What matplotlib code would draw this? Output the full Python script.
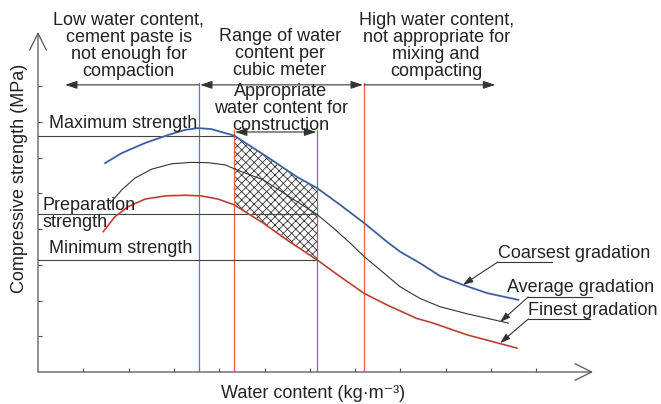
import matplotlib.pyplot as plt
import numpy as np

plt.rcParams['font.family'] = ['Liberation Sans', 'DejaVu Sans']
plt.rcParams['hatch.linewidth'] = 0.6

# curves (x: water content, y: strength, in tick units)
coarse_x = [1.48, 1.85, 2.36, 2.88, 3.25, 3.54, 3.83, 4.13, 4.33, 5.06, 5.72,
            6.16, 6.67, 7.20, 7.70, 7.99, 8.43, 8.87, 9.38, 9.91, 10.60]
coarse_y = [5.85, 6.13, 6.41, 6.64, 6.78, 6.83, 6.80, 6.69, 6.62, 6.02, 5.46,
            5.15, 4.68, 4.17, 3.65, 3.37, 3.05, 2.69, 2.44, 2.21, 2.02]
avg_x = [1.59, 1.85, 2.14, 2.51, 2.95, 3.39, 3.76, 4.13, 4.39, 4.97, 5.56,
         6.17, 6.52, 6.89, 7.20, 7.55, 7.99, 8.43, 8.87, 9.47, 10.38]
avg_y = [4.73, 5.10, 5.43, 5.68, 5.83, 5.87, 5.86, 5.80, 5.66, 5.38, 4.90,
         4.40, 4.03, 3.61, 3.23, 2.86, 2.39, 2.06, 1.83, 1.63, 1.37]
fine_x = [1.44, 1.70, 1.99, 2.36, 2.80, 3.25, 3.61, 3.98, 4.33, 4.97, 5.56,
          6.16, 6.67, 7.20, 7.70, 8.36, 8.72, 9.47, 10.57]
fine_y = [3.93, 4.35, 4.63, 4.84, 4.93, 4.95, 4.93, 4.84, 4.68, 4.17, 3.64,
          3.14, 2.67, 2.20, 1.88, 1.50, 1.37, 1.04, 0.67]

# vertical limits and reference strengths
w_low = 3.55       # blue, left
w_app_lo = 4.33    # red, left
w_app_hi = 6.16    # blue, right
w_high = 7.20      # red, right
s_max = 6.61
s_prep = 4.43
s_min = 3.14

x_end, y_end = 12.25, 9.52

fig = plt.figure(figsize=(6.61, 4.04), dpi=100)
ax = fig.add_axes([38 / 661, 32 / 404, 555 / 661, 340 / 404])
ax.set_xlim(0, x_end)
ax.set_ylim(0, y_end)
for sp in ax.spines.values():
    sp.set_visible(False)
ax.set_xticks(range(1, 12))
ax.set_yticks(range(1, 9))
ax.tick_params(direction='in', length=3, width=0.8, color='#555',
               labelleft=False, labelbottom=False)

axis_arrow = dict(arrowstyle='->,head_length=0.8,head_width=0.4', lw=0.9,
                  color='#555', mutation_scale=15, shrinkA=0, shrinkB=0)
ax.annotate('', xy=(0, y_end), xytext=(0, 0), arrowprops=axis_arrow,
            annotation_clip=False)
ax.annotate('', xy=(x_end, 0), xytext=(0, 0), arrowprops=axis_arrow,
            annotation_clip=False)

blue = '#5479cc'
red = '#f05a48'
line_c = '#444444'

# vertical boundaries
ax.plot([w_low, w_low], [0, 8.1], color=blue, lw=0.9)
ax.plot([w_app_lo, w_app_lo], [0, 6.78], color=red, lw=0.9)
ax.plot([w_app_hi, w_app_hi], [0, 6.78], color=blue, lw=0.9)
ax.plot([w_high, w_high], [0, 8.1], color=red, lw=0.9)

# strength levels
ax.plot([0, w_app_lo], [s_max, s_max], color=line_c, lw=0.8)
ax.plot([0, w_app_hi], [s_prep, s_prep], color=line_c, lw=0.8)
ax.plot([0, w_app_hi], [s_min, s_min], color=line_c, lw=0.8)

# hatched region between coarsest and finest
cx, cy = np.array(coarse_x), np.array(coarse_y)
fx, fy = np.array(fine_x), np.array(fine_y)
mc = (cx >= w_app_lo) & (cx <= w_app_hi)
mf = (fx >= w_app_lo) & (fx <= w_app_hi)
ax.fill(np.concatenate([cx[mc], fx[mf][::-1]]),
        np.concatenate([cy[mc], fy[mf][::-1]]),
        facecolor='none', edgecolor='#333333', hatch='xxxx', lw=0)

# curves
ax.plot(coarse_x, coarse_y, color=blue, lw=1.4)
ax.plot(coarse_x, coarse_y, color='#333333', lw=0.4, alpha=0.8)
ax.plot(avg_x, avg_y, color='#333333', lw=0.8)
ax.plot(fine_x, fine_y, color=red, lw=1.3)
ax.plot(fine_x, fine_y, color='#333333', lw=0.4, alpha=0.8)

# range arrows
ya = 8.04
one = dict(arrowstyle='-|>,head_length=0.6,head_width=0.2', lw=0.8,
           color='#333333', mutation_scale=12, shrinkA=0, shrinkB=0)
two = dict(arrowstyle='<|-|>,head_length=0.6,head_width=0.2', lw=0.8,
           color='#333333', mutation_scale=12, shrinkA=0, shrinkB=0)
ax.annotate('', xy=(0.6, ya), xytext=(w_low, ya), arrowprops=one)
ax.annotate('', xy=(w_high - 0.03, ya), xytext=(w_low + 0.03, ya), arrowprops=two)
ax.annotate('', xy=(10.09, ya), xytext=(w_high, ya), arrowprops=one)
ax.annotate('', xy=(w_app_hi - 0.02, 6.72), xytext=(w_app_lo + 0.02, 6.72),
            arrowprops=two)

fs = 13
ls = 1.02
txt = dict(fontsize=fs, color='#222222', linespacing=ls, clip_on=False)
ax.text(2.0, 9.13, 'Low water content,\ncement paste is\nnot enough for\ncompaction',
        ha='center', va='center', **txt)
ax.text(5.34, 8.92, 'Range of water\ncontent per\ncubic meter',
        ha='center', va='center', **txt)
ax.text(8.79, 9.13, 'High water content,\nnot appropriate for\nmixing and\ncompacting',
        ha='center', va='center', **txt)
ax.text(5.36, 7.38, 'Appropriate\nwater content for\nconstruction',
        ha='center', va='center', **txt)

ax.text(0.24, 6.95, 'Maximum strength', ha='left', va='center', **txt)
ax.text(0.11, 4.43, 'Preparation\nstrength', ha='left', va='center', **txt)
ax.text(0.24, 3.47, 'Minimum strength', ha='left', va='center', **txt)

# series labels with leaders
lead = dict(arrowstyle='-|>,head_length=0.6,head_width=0.2', lw=0.8,
            color='#333333', mutation_scale=10, shrinkA=0, shrinkB=0)
ax.text(10.15, 3.33, 'Coarsest gradation', ha='left', va='center', **txt)
ax.plot([11.35, 10.15], [3.08, 3.08], color='#333333', lw=0.8)
ax.annotate('', xy=(9.38, 2.44), xytext=(10.15, 3.08), arrowprops=lead)

ax.text(10.35, 2.38, 'Average gradation', ha='left', va='center', **txt)
ax.plot([12.23, 10.82], [2.10, 2.10], color='#333333', lw=0.8, clip_on=False)
ax.annotate('', xy=(10.2, 1.40), xytext=(10.82, 2.10), arrowprops=lead)

ax.text(10.82, 1.71, 'Finest gradation', ha='left', va='center', **txt)
ax.plot([12.19, 10.82], [1.48, 1.48], color='#333333', lw=0.8, clip_on=False)
ax.annotate('', xy=(10.2, 0.81), xytext=(10.82, 1.48), arrowprops=lead)

# axis titles
ax.text(6.07, -0.59, 'Water content (kg·m⁻³)', ha='center', va='center', **txt)
ax.text(-0.40, 5.43, 'Compressive strength (MPa)', ha='center', va='center',
        rotation=90, **txt)

fig.savefig('out.png', dpi=100)
